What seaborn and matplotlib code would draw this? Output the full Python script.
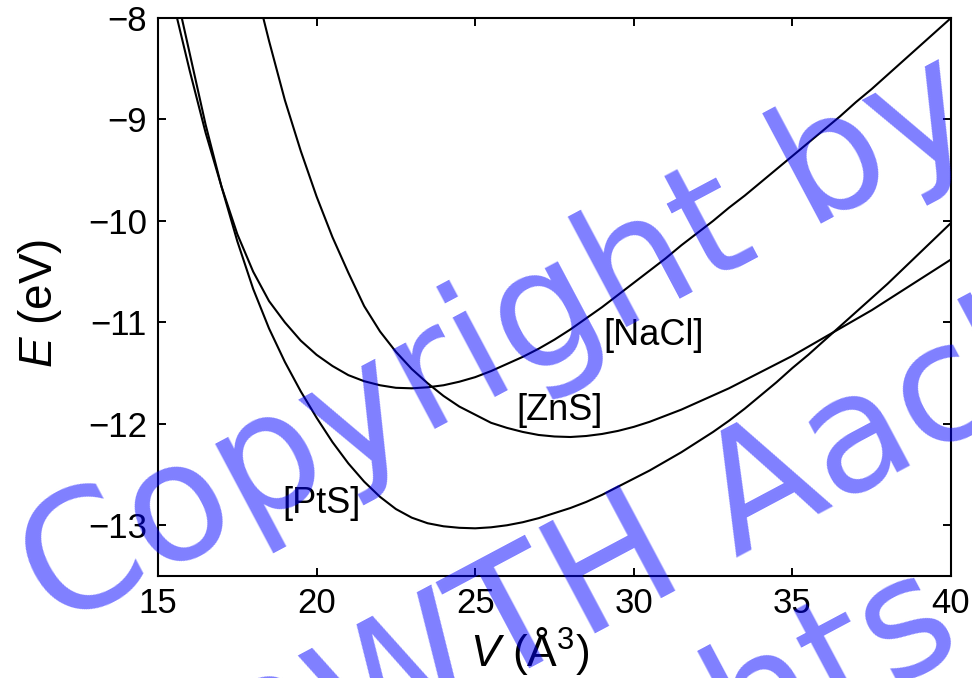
import matplotlib
matplotlib.use("Agg")
import numpy as np
import pandas as pd
import seaborn as sns
import matplotlib.pyplot as plt
import matplotlib.transforms as mtransforms

# ---------------- data ----------------
V_NaCl = [15.6, 16.0, 16.5, 17.0, 17.5, 18.0, 18.5, 19.0, 19.5, 20.0, 20.5, 21.0, 21.5,
          22.0, 22.5, 23.0, 23.5, 24.0, 24.5, 25.0, 25.5, 26.0, 26.5, 27.0, 27.5, 28.0,
          28.5, 29.0, 29.5, 30.0, 30.5, 31.0, 31.5, 32.0, 32.5, 33.0, 33.5, 34.0, 34.5,
          35.0, 35.5, 36.0, 36.5, 37.0, 37.5, 38.0, 38.5, 39.0, 39.5, 40.0]
E_NaCl = [-8.00, -8.52, -9.13, -9.66, -10.13, -10.50, -10.79, -11.00, -11.18, -11.32,
          -11.43, -11.52, -11.58, -11.62, -11.645, -11.65, -11.64, -11.62, -11.585, -11.54,
          -11.48, -11.41, -11.34, -11.26, -11.17, -11.07, -10.96, -10.85, -10.73, -10.61,
          -10.49, -10.37, -10.24, -10.12, -10.00, -9.87, -9.75, -9.62, -9.49, -9.36,
          -9.23, -9.10, -8.97, -8.83, -8.70, -8.56, -8.42, -8.28, -8.14, -8.00]

V_PtS = [15.75, 16.0, 16.5, 17.0, 17.5, 18.0, 18.5, 19.0, 19.5, 20.0, 20.5, 21.0, 21.5,
         22.0, 22.5, 23.0, 23.5, 24.0, 24.5, 25.0, 25.5, 26.0, 26.5, 27.0, 27.5, 28.0,
         28.5, 29.0, 29.5, 30.0, 30.5, 31.0, 31.5, 32.0, 32.5, 33.0, 33.5, 34.0, 34.5,
         35.0, 35.5, 36.0, 36.5, 37.0, 37.5, 38.0, 38.5, 39.0, 39.5, 40.0]
E_PtS = [-8.00, -8.35, -9.05, -9.66, -10.20, -10.67, -11.06, -11.39, -11.68, -11.94,
         -12.18, -12.39, -12.57, -12.72, -12.84, -12.925, -12.98, -13.01, -13.025, -13.03,
         -13.02, -13.00, -12.97, -12.93, -12.88, -12.83, -12.77, -12.70, -12.62, -12.54,
         -12.46, -12.37, -12.28, -12.18, -12.08, -11.97, -11.85, -11.72, -11.59, -11.45,
         -11.32, -11.18, -11.04, -10.90, -10.76, -10.62, -10.47, -10.32, -10.17, -10.02]

V_ZnS = [18.32, 18.5, 19.0, 19.5, 20.0, 20.5, 21.0, 21.5, 22.0, 22.5, 23.0, 23.5, 24.0,
         24.5, 25.0, 25.5, 26.0, 26.5, 27.0, 27.5, 28.0, 28.5, 29.0, 29.5, 30.0, 30.5,
         31.0, 31.5, 32.0, 32.5, 33.0, 33.5, 34.0, 34.5, 35.0, 35.5, 36.0, 36.5, 37.0,
         37.5, 38.0, 38.5, 39.0, 39.5, 40.0]
E_ZnS = [-8.00, -8.225, -8.81, -9.31, -9.76, -10.16, -10.51, -10.84, -11.09, -11.29,
         -11.46, -11.60, -11.725, -11.83, -11.91, -11.99, -12.04, -12.08, -12.11, -12.125,
         -12.13, -12.12, -12.10, -12.07, -12.03, -11.98, -11.92, -11.86, -11.79, -11.72,
         -11.65, -11.57, -11.49, -11.41, -11.33, -11.24, -11.15, -11.06, -10.97, -10.88,
         -10.78, -10.68, -10.58, -10.48, -10.38]

phase_names = ["[NaCl]", "[ZnS]", "[PtS]"]
label_V = [30.64, 27.66, 20.15]
label_E = [-11.125, -11.87, -12.79]

x_ticks = [15, 20, 25, 30, 35, 40]
y_ticks = [-13, -12, -11, -10, -9, -8]

watermark_lines = ["Copyright by", "RWTH Aachen", "All rights reserved"]

# ---------------- style ----------------
sns.set_theme(style="ticks")
plt.rcParams["font.family"] = ["Liberation Sans", "DejaVu Sans"]
plt.rcParams["mathtext.fontset"] = "custom"
plt.rcParams["mathtext.rm"] = "Liberation Sans"
plt.rcParams["mathtext.it"] = "Liberation Sans:italic"
plt.rcParams["axes.unicode_minus"] = True

df = pd.concat([
    pd.DataFrame({"V": V_NaCl, "E": E_NaCl, "phase": "[NaCl]"}),
    pd.DataFrame({"V": V_ZnS, "E": E_ZnS, "phase": "[ZnS]"}),
    pd.DataFrame({"V": V_PtS, "E": E_PtS, "phase": "[PtS]"}),
], ignore_index=True)

fig = plt.figure(figsize=(9.72, 6.78), dpi=100)
fig.patch.set_facecolor("white")
ax = fig.add_axes([158 / 972, 102 / 678, 793 / 972, 558 / 678])

sns.lineplot(data=df, x="V", y="E", hue="phase",
             palette={p: "black" for p in phase_names},
             estimator=None, sort=False, legend=False, linewidth=1.5, ax=ax)

for name, vx, ey in zip(phase_names, label_V, label_E):
    ax.text(vx, ey, name, ha="center", va="center", fontsize=26, color="black")

ax.set_xlim(15, 40)
ax.set_ylim(-13.5, -8)
ax.set_xticks(x_ticks)
ax.set_yticks(y_ticks)
ax.set_xticklabels([str(t) for t in x_ticks])
ax.set_yticklabels([("\u2212" + str(abs(t))) for t in y_ticks])
ax.tick_params(direction="in", length=6, width=1.4, top=True, right=True,
               labelsize=25, pad=8, colors="black")
for s in ax.spines.values():
    s.set_linewidth(1.5)
    s.set_color("black")

ax.set_xlabel(r"$\mathit{V}$ (Å$^{3}$)", fontsize=32, color="black")
ax.set_ylabel(r"$\mathit{E}$ (eV)", fontsize=33, color="black")
ax.xaxis.label.set_va("baseline")
ax.yaxis.label.set_va("baseline")
ax.xaxis.set_label_coords(0.469, -0.161)
ax.yaxis.set_label_coords(-0.1337, 0.489)

# ---------------- watermark (rotated semi-transparent blue text on top) ----------------
origins_px = [(55, 47), (255, -136), (326, -312)]
for txt, (tx, ty) in zip(watermark_lines, origins_px):
    fig.text(tx / 972, ty / 678, txt, family="DejaVu Sans", fontsize=118,
             color=(0, 0, 1, 0.5), rotation=28, rotation_mode="anchor",
             ha="left", va="baseline", zorder=20)

fig.savefig("out.png", dpi=100, facecolor="white")
